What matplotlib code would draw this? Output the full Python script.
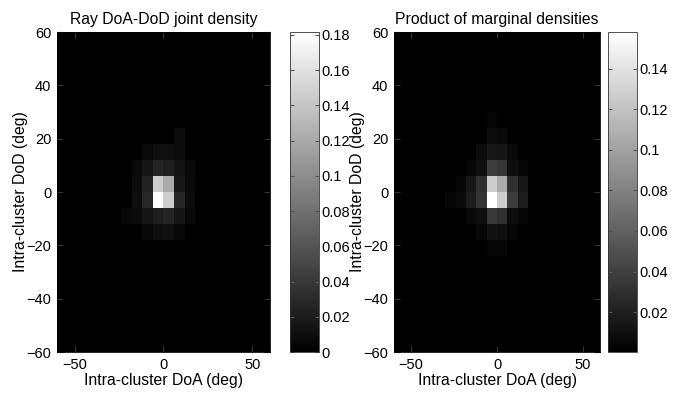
"""Ray DoA-DoD joint density vs product of marginal densities."""

import matplotlib

matplotlib.use("Agg")
import matplotlib.pyplot as plt
import numpy as np

plt.rcParams["font.family"] = ["Liberation Sans", "DejaVu Sans"]

# 6 degree bins from -60 to 60 on both axes (20 x 20 grid)
BIN_EDGES = np.arange(-60, 61, 6)

# Non-zero part of the grids: rows 5..13 from the top, columns 5..12 from the left
BLOCK_ROW0 = 5
BLOCK_COL0 = 5

joint_block = [
    [0, 0, 0, 0, 0, 0, 0, 0],
    [0, 0, 0, 0, 0, 0, 0.008, 0],
    [0, 0, 0, 0.007, 0.011, 0.011, 0.009, 0],
    [0, 0, 0.007, 0.016, 0.026, 0.022, 0.014, 0.007],
    [0, 0, 0.009, 0.025, 0.146, 0.122, 0.017, 0.008],
    [0, 0, 0.010, 0.028, 0.182, 0.146, 0.027, 0.009],
    [0, 0.006, 0.008, 0.015, 0.022, 0.026, 0.016, 0.007],
    [0, 0, 0, 0.006, 0.010, 0.012, 0.006, 0],
    [0, 0, 0, 0, 0, 0, 0, 0],
]

product_block = [
    [0, 0, 0, 0, 0.005, 0, 0, 0],
    [0, 0, 0, 0, 0.008, 0.007, 0, 0],
    [0, 0, 0, 0.008, 0.015, 0.014, 0.007, 0],
    [0, 0, 0.005, 0.010, 0.038, 0.034, 0.009, 0.005],
    [0, 0.005, 0.015, 0.030, 0.127, 0.106, 0.030, 0.015],
    [0.005, 0.007, 0.018, 0.033, 0.158, 0.127, 0.038, 0.018],
    [0, 0, 0.007, 0.010, 0.035, 0.031, 0.008, 0.005],
    [0, 0, 0, 0.005, 0.012, 0.010, 0.005, 0],
    [0, 0, 0, 0, 0.005, 0.005, 0, 0],
]

TITLES = ["Ray DoA-DoD joint density", "Product of marginal densities"]
XLABEL = "Intra-cluster DoA (deg)"
YLABEL = "Intra-cluster DoD (deg)"
XTICKS = [-50, 0, 50]
YTICKS = [-60, -40, -20, 0, 20, 40, 60]
CBAR_TICKS = [
    [0, 0.02, 0.04, 0.06, 0.08, 0.1, 0.12, 0.14, 0.16, 0.18],
    [0.02, 0.04, 0.06, 0.08, 0.1, 0.12, 0.14],
]
CBAR_LIMITS = [(0.0, 0.1817), (0.0004, 0.158)]


def full_grid(block):
    n = len(BIN_EDGES) - 1
    grid = np.zeros((n, n))
    block = np.asarray(block)
    grid[BLOCK_ROW0:BLOCK_ROW0 + block.shape[0], BLOCK_COL0:BLOCK_COL0 + block.shape[1]] = block
    return grid


def tick_label(v):
    return f"{v:g}"


fig = plt.figure(figsize=(6.83, 3.93), dpi=100)

axes_pos = [
    [57 / 683, 41 / 393, 213 / 683, 320 / 393],
    [394 / 683, 41 / 393, 206 / 683, 320 / 393],
]
cbar_pos = [
    [290 / 683, 41 / 393, 29 / 683, 320 / 393],
    [608 / 683, 41 / 393, 29 / 683, 320 / 393],
]

for k, block in enumerate([joint_block, product_block]):
    ax = fig.add_axes(axes_pos[k])
    cax = fig.add_axes(cbar_pos[k])
    vmin, vmax = CBAR_LIMITS[k]
    im = ax.imshow(
        full_grid(block),
        cmap="gray",
        vmin=vmin,
        vmax=vmax,
        extent=[BIN_EDGES[0], BIN_EDGES[-1], BIN_EDGES[0], BIN_EDGES[-1]],
        origin="upper",
        aspect="auto",
        interpolation="nearest",
    )
    ax.set_xticks(XTICKS)
    ax.set_yticks(YTICKS)
    ax.tick_params(direction="in", labelsize=10.5, length=4, color="#333333",
                   top=True, right=True, pad=4)
    ax.set_xlabel(XLABEL, fontsize=11.3, labelpad=1)
    ax.set_ylabel(YLABEL, fontsize=11.3, labelpad=-1)
    ax.set_title(TITLES[k], fontsize=11.3, pad=6)
    for s in ax.spines.values():
        s.set_linewidth(0.6)

    cb = fig.colorbar(im, cax=cax)
    cb.set_ticks(CBAR_TICKS[k])
    cb.set_ticklabels([tick_label(v) for v in CBAR_TICKS[k]])
    cax.tick_params(direction="in", labelsize=10.5, length=3, color="#555555",
                    left=True, right=True, pad=2)
    cb.outline.set_linewidth(0.6)
    cb.outline.set_edgecolor("#333333")

fig.savefig("out.png", dpi=100)
